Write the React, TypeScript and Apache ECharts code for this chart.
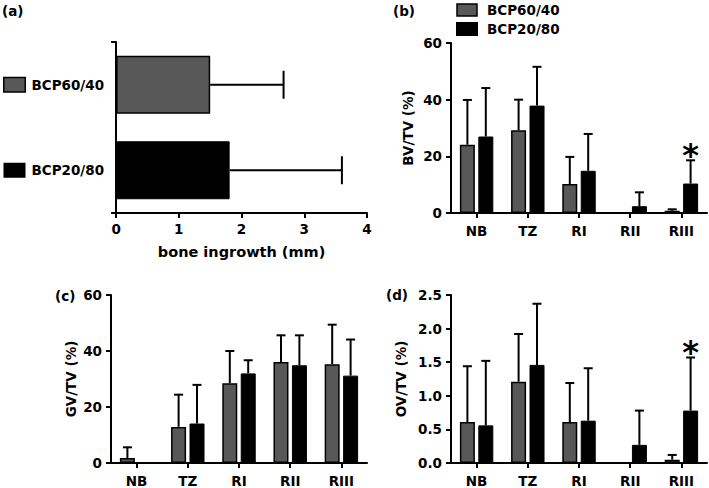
import React, { useEffect, useRef } from 'react';
import * as echarts from 'echarts';

// ---- data ----
const groups = ['BCP60/40', 'BCP20/80'];
const ingrowthMean = [1.5, 1.81];
const ingrowthErrTop = [2.67, 3.6];

const zones = ['NB', 'TZ', 'RI', 'RII', 'RIII'];

const bv6040 = [24.1, 29.2, 10.2, 0, 0.8];
const bv6040Err = [39.9, 40.0, 19.8, 0, 1.3];
const bv2080 = [27.0, 37.9, 14.9, 2.4, 10.4];
const bv2080Err = [44.1, 51.6, 27.9, 7.3, 18.6];
const bvStar = [false, false, false, false, true];

const gv6040 = [1.8, 12.9, 28.5, 36.1, 35.3];
const gv6040Err = [5.6, 24.4, 40.0, 45.6, 49.4];
const gv2080 = [0, 14.1, 32.0, 34.9, 31.2];
const gv2080Err = [0, 27.9, 36.7, 45.6, 44.1];

const ov6040 = [0.61, 1.21, 0.61, 0, 0.05];
const ov6040Err = [1.44, 1.92, 1.19, 0, 0.12];
const ov2080 = [0.56, 1.46, 0.63, 0.27, 0.78];
const ov2080Err = [1.52, 2.37, 1.41, 0.78, 1.57];
const ovStar = [false, false, false, false, true];

const noStar = [false, false, false, false, false];

// ---- style ----
const F = '"DejaVu Sans", Arial, sans-serif';
const FS = 13.5;
const GRAY = '#585858';
const BLACK = '#000';
const BAR_W = 15;
const BAR_GAP = '23%';
const OFF = 9.2;

const axisLine = { show: true, lineStyle: { color: '#000', width: 2 } };
const axisTick = { show: true, length: 5, lineStyle: { color: '#000', width: 2 } };
const labelStyle = { color: '#000', fontFamily: F, fontWeight: 'bold' as const, fontSize: FS };

function vErrRender(offset: number) {
  return (params: any, api: any) => {
    const idx = api.value(0);
    const v = api.value(1);
    const e = api.value(2);
    const star = api.value(3);
    if (!(e > v)) return null;
    const p0 = api.coord([idx, v]);
    const p1 = api.coord([idx, e]);
    const x = p0[0] + offset;
    const children: any[] = [
      { type: 'line', shape: { x1: x, y1: p0[1], x2: x, y2: p1[1] }, style: { stroke: '#000', lineWidth: 2 } },
      { type: 'line', shape: { x1: x - 4.5, y1: p1[1], x2: x + 4.5, y2: p1[1] }, style: { stroke: '#000', lineWidth: 2 } },
    ];
    if (star) {
      children.push({
        type: 'text',
        x: x,
        y: p1[1] - 5,
        style: { text: '*', fill: '#000', font: `bold 32px ${F}`, align: 'center', verticalAlign: 'middle' },
      });
    }
    return { type: 'group', children };
  };
}

function hErrRender(params: any, api: any) {
  const idx = api.value(0);
  const v = api.value(1);
  const e = api.value(2);
  const p0 = api.coord([v, idx]);
  const p1 = api.coord([e, idx]);
  const y = p0[1];
  return {
    type: 'group',
    children: [
      { type: 'line', shape: { x1: p0[0], y1: y, x2: p1[0], y2: y }, style: { stroke: '#000', lineWidth: 2 } },
      { type: 'line', shape: { x1: p1[0], y1: y - 14, x2: p1[0], y2: y + 14 }, style: { stroke: '#000', lineWidth: 2 } },
    ],
  };
}

function panelSeries(gi: number, a: number[], aErr: number[], b: number[], bErr: number[], stars: boolean[]) {
  return [
    {
      type: 'bar', name: groups[0], xAxisIndex: gi, yAxisIndex: gi,
      barWidth: BAR_W, barGap: BAR_GAP, data: a,
      itemStyle: { color: GRAY, borderColor: '#000', borderWidth: 1.5 },
    },
    {
      type: 'bar', name: groups[1], xAxisIndex: gi, yAxisIndex: gi,
      barWidth: BAR_W, barGap: BAR_GAP, data: b,
      itemStyle: { color: BLACK, borderColor: '#000', borderWidth: 1 },
    },
    {
      type: 'custom', name: 'err60', xAxisIndex: gi, yAxisIndex: gi, z: 5,
      renderItem: vErrRender(-OFF), encode: { x: 0, y: 1 },
      data: a.map((v, i) => [i, v, aErr[i], 0]),
    },
    {
      type: 'custom', name: 'err20', xAxisIndex: gi, yAxisIndex: gi, z: 5,
      renderItem: vErrRender(OFF), encode: { x: 0, y: 1 },
      data: b.map((v, i) => [i, v, bErr[i], stars[i] ? 1 : 0]),
    },
  ];
}

function catX(gi: number) {
  return {
    type: 'category', gridIndex: gi, data: zones,
    axisLine, axisTick: { ...axisTick, alignWithLabel: true },
    axisLabel: { ...labelStyle, margin: 11 }, splitLine: { show: false },
  };
}

function valY(gi: number, max: number, interval: number, name: string, nameGap: number, fmt?: (v: number) => string) {
  return {
    type: 'value', gridIndex: gi, min: 0, max, interval,
    axisLine, axisTick,
    axisLabel: { ...labelStyle, margin: 9, formatter: fmt },
    splitLine: { show: false },
    name, nameLocation: 'middle', nameGap,
    nameTextStyle: { ...labelStyle },
  };
}

export default function App() {
  const ref = useRef<HTMLDivElement>(null);
  useEffect(() => {
    if (!ref.current) return;
    const chart = echarts.init(ref.current, undefined, { renderer: 'svg' });
    const option: any = {
      animation: false,
      backgroundColor: '#fff',
      textStyle: { fontFamily: F },
      legend: {
        show: true, orient: 'vertical', left: 456, top: 3, padding: 0,
        itemWidth: 20, itemHeight: 12, itemGap: 5, selectedMode: false,
        textStyle: { ...labelStyle, padding: [0, 0, 2, 5] },
        data: [
          { name: groups[0], icon: 'rect', itemStyle: { color: GRAY, borderColor: '#000', borderWidth: 1.5 } },
          { name: groups[1], icon: 'rect', itemStyle: { color: BLACK } },
        ],
      },
      grid: [
        { left: 112, top: 42, width: 255, height: 171 },
        { left: 451, top: 43, width: 256, height: 170 },
        { left: 111, top: 295, width: 256, height: 169 },
        { left: 451, top: 295, width: 256, height: 169 },
      ],
      xAxis: [
        {
          type: 'value', gridIndex: 0, min: 0, max: 4, interval: 1,
          axisLine, axisTick, axisLabel: { ...labelStyle, margin: 9 }, splitLine: { show: false },
          name: 'bone ingrowth (mm)', nameLocation: 'middle', nameGap: 31,
          nameTextStyle: { ...labelStyle, fontSize: 14.5 },
        },
        catX(1), catX(2), catX(3),
      ],
      yAxis: [
        {
          type: 'category', gridIndex: 0, data: groups, inverse: true,
          axisLine,
          axisTick: { ...axisTick, interval: (i: number) => i === 1 },
          axisLabel: {
            margin: 12,
            interval: 0,
            formatter: (v: string) => `{${v === groups[0] ? 'g' : 'k'}|}{t|${v}}`,
            rich: {
              g: { width: 20, height: 13, backgroundColor: GRAY, borderColor: '#000', borderWidth: 1.5 },
              k: { width: 20, height: 13, backgroundColor: BLACK, borderColor: '#000', borderWidth: 1 },
              t: { ...labelStyle, padding: [0, 0, 0, 7] },
            },
          },
          splitLine: { show: false },
        },
        valY(1, 60, 20, 'BV/TV (%)', 36),
        valY(2, 60, 20, 'GV/TV (%)', 33),
        valY(3, 2.5, 0.5, 'OV/TV (%)', 43, (v: number) => v.toFixed(1)),
      ],
      graphic: [
        { type: 'text', x: 2, y: 11, style: { text: '(a)', fill: '#000', font: `bold ${FS}px ${F}`, verticalAlign: 'middle' } },
        { type: 'text', x: 393, y: 11, style: { text: '(b)', fill: '#000', font: `bold ${FS}px ${F}`, verticalAlign: 'middle' } },
        { type: 'text', x: 55, y: 296, style: { text: '(c)', fill: '#000', font: `bold ${FS}px ${F}`, verticalAlign: 'middle' } },
        { type: 'text', x: 386, y: 295, style: { text: '(d)', fill: '#000', font: `bold ${FS}px ${F}`, verticalAlign: 'middle' } },
      ],
      series: [
        {
          type: 'bar', name: 'ingrowth', xAxisIndex: 0, yAxisIndex: 0, barWidth: 58,
          data: ingrowthMean.map((v, i) => ({
            value: v,
            itemStyle: i === 0
              ? { color: GRAY, borderColor: '#000', borderWidth: 1.5 }
              : { color: BLACK, borderColor: '#000', borderWidth: 1 },
          })),
        },
        {
          type: 'custom', name: 'ingrowthErr', xAxisIndex: 0, yAxisIndex: 0, z: 5,
          renderItem: hErrRender, encode: { x: 1, y: 0 },
          data: ingrowthMean.map((v, i) => [i, v, ingrowthErrTop[i]]),
        },
        ...panelSeries(1, bv6040, bv6040Err, bv2080, bv2080Err, bvStar),
        ...panelSeries(2, gv6040, gv6040Err, gv2080, gv2080Err, noStar),
        ...panelSeries(3, ov6040, ov6040Err, ov2080, ov2080Err, ovStar),
      ],
    };
    chart.setOption(option);
    return () => chart.dispose();
  }, []);
  return <div ref={ref} style={{ position: 'fixed', left: 0, top: 0, width: 709, height: 488, background: '#fff' }} />;
}
